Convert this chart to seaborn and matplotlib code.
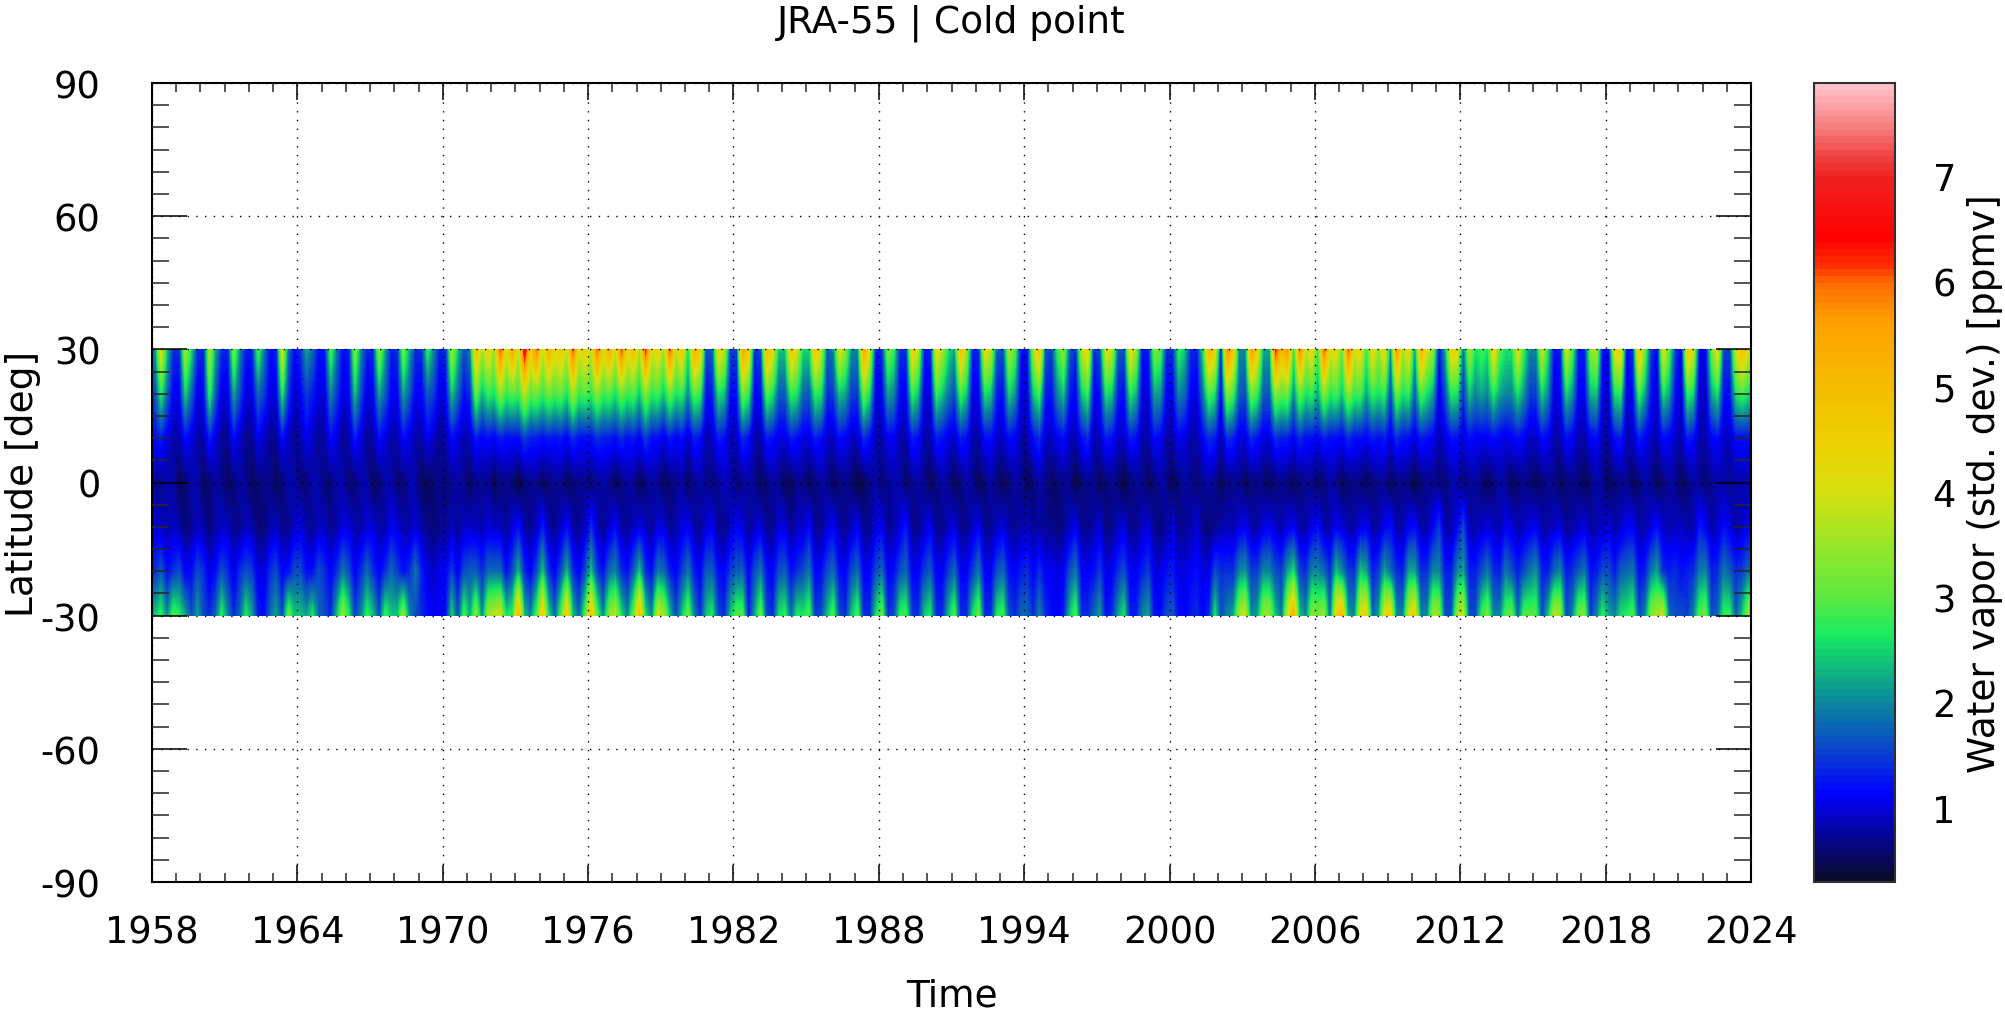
import numpy as np
import seaborn as sns
import matplotlib.pyplot as plt
from matplotlib.colors import LinearSegmentedColormap

# water vapour std. dev. in 0.1 ppmv, four samples per year, 1958-2023
lat_p30 = [
    20,43,24,14, 14,37,26,14, 14,37,22,14, 13,34,20,13, 13,30,19,12, 13,42,19,12,
    14,22,18,12, 13,30,19,12, 13,34,20,13, 14,35,22,13, 14,33,22,14, 14,28,20,13,
    14,37,24,16, 20,50,36,45, 35,63,40,55, 38,70,45,60, 38,53,42,48, 38,63,40,46,
    38,62,42,54, 38,63,42,50, 36,65,40,45, 35,63,38,48, 25,54,46,16, 17,45,38,15,
    15,56,46,14, 16,52,42,24, 24,48,40,25, 25,49,38,17, 20,42,34,20, 20,56,40,13,
    14,33,28,14, 14,46,38,13, 13,44,36,26, 22,50,36,13, 14,43,38,17, 16,37,30,12,
    12,36,50,17, 15,28,35,17, 14,38,45,14, 16,42,38,17, 16,45,35,12, 13,33,30,14,
    14,28,24,14, 13,26,52,44, 13,60,48,20, 20,58,44,22, 22,65,50,58, 27,60,38,44,
    28,63,40,44, 30,63,40,45, 28,45,34,45, 20,60,36,45, 21,54,40,35, 12,22,45,43,
    18,37,26,29, 26,46,30,26, 26,43,28,20, 20,40,26,12, 13,40,30,13, 13,34,37,12,
    12,42,45,11, 15,50,32,15, 11,43,30,15, 11,48,40,11, 11,32,44,15, 15,40,50,40,
]
lat_p20 = [
    16,27,18,11, 11,25,18,10, 11,28,17,10, 10,22,16,10, 10,18,15,10, 10,27,15,9,
    11,15,13,10, 10,20,15,10, 11,24,16,10, 11,22,17,11, 11,22,17,11, 11,17,15,10,
    11,24,18,12, 14,32,23,28, 26,34,28,30, 28,38,30,32, 28,32,29,31, 26,36,28,30,
    27,34,28,30, 26,32,28,30, 24,34,27,29, 24,32,26,28, 20,30,28,12, 13,26,24,12,
    12,32,28,11, 12,30,26,17, 17,28,26,18, 17,28,26,14, 15,24,22,15, 15,32,26,10,
    11,22,20,11, 11,28,24,10, 10,28,24,19, 16,29,24,10, 11,26,24,13, 12,25,21,10,
    10,24,29,13, 12,20,24,13, 11,24,28,11, 12,26,24,13, 12,27,23,10, 10,22,21,11,
    11,20,18,11, 10,19,30,26, 11,34,29,17, 16,32,28,17, 17,34,30,32, 20,32,26,28,
    22,34,27,29, 24,34,28,29, 22,28,26,28, 16,32,26,28, 17,30,26,22, 10,16,27,26,
    14,24,20,22, 20,27,22,20, 20,26,21,15, 15,25,20,10, 11,25,21,11, 11,23,24,10,
    10,26,27,9, 12,29,22,12, 9,26,22,12, 9,28,25,9, 9,22,26,12, 12,26,29,26,
]
lat_p10 = [
    12,13,10,8, 8,12,10,8, 8,13,10,7, 7,12,9,7, 7,11,9,7, 7,12,9,7,
    8,11,9,7, 8,12,10,7, 8,13,10,7, 8,12,10,8, 8,12,10,8, 8,11,9,7,
    8,12,10,8, 9,13,11,12, 11,13,12,12, 12,15,13,13, 12,13,12,13, 11,14,12,12,
    12,14,13,13, 12,14,12,13, 11,15,12,12, 10,13,11,12, 9,13,12,8, 9,13,12,8,
    9,14,12,8, 8,13,12,10, 10,13,12,10, 10,13,12,9, 9,12,11,9, 9,14,12,8,
    8,11,11,8, 8,13,12,8, 8,13,12,10, 9,13,12,8, 8,12,12,9, 9,12,11,8,
    8,12,14,9, 9,11,12,9, 8,12,14,8, 9,13,12,9, 9,13,12,8, 8,12,11,8,
    8,11,10,8, 8,11,14,13, 8,14,13,10, 10,14,12,10, 10,14,13,13, 11,14,12,12,
    11,13,12,12, 11,14,12,12, 11,13,12,13, 10,14,12,12, 10,13,12,11, 8,10,12,12,
    10,12,11,11, 11,12,11,10, 11,12,11,9, 9,12,11,8, 8,12,11,8, 8,11,12,8,
    8,12,13,8, 9,13,11,9, 8,12,11,9, 8,13,12,8, 8,11,12,9, 9,12,12,12,
]
lat_eq = [
    7,7,8,8, 5,6,8,8, 5,6,8,7, 5,6,8,7, 5,6,7,7, 5,6,8,8,
    6,6,8,8, 6,6,8,8, 6,6,8,8, 5,6,8,8, 6,6,8,8, 5,5,6,7,
    6,7,8,7, 5,7,7,7, 5,6,7,6, 4,6,7,7, 5,6,7,7, 5,6,7,7,
    6,7,8,7, 5,6,8,7, 5,6,8,7, 5,6,7,8, 5,7,8,7, 6,7,9,8,
    6,7,8,7, 5,6,8,7, 5,5,7,7, 5,6,8,7, 5,6,7,6, 4,5,7,8,
    6,7,8,8, 5,7,8,7, 5,6,8,7, 5,6,8,7, 5,6,8,6, 5,6,8,7,
    5,6,8,7, 5,6,7,7, 4,6,7,7, 5,6,7,6, 4,6,7,7, 5,6,8,7,
    5,6,8,7, 6,7,8,7, 5,6,7,7, 5,6,7,6, 5,6,7,6, 5,6,7,7,
    5,6,8,7, 5,6,7,6, 5,6,7,7, 5,6,7,6, 4,6,7,7, 6,6,8,8,
    6,7,8,6, 5,6,8,7, 5,6,7,6, 5,6,7,7, 5,6,7,6, 5,6,8,7,
    5,6,7,7, 5,6,8,7, 5,6,8,7, 5,6,8,7, 6,7,8,8, 7,8,8,8,
]
lat_m10 = [
    10,9,8,9, 8,6,7,9, 8,6,8,9, 9,7,7,9, 8,6,6,8, 9,7,7,9,
    10,8,7,9, 9,7,8,10, 10,8,8,10, 10,8,8,11, 10,8,8,10, 8,7,6,7,
    7,9,7,9, 9,9,8,10, 9,9,7,10, 12,8,7,9, 13,8,7,9, 12,8,7,9,
    14,9,7,9, 12,8,7,9, 10,9,7,10, 10,7,8,10, 11,8,7,10, 11,7,7,9,
    11,10,7,9, 10,7,7,10, 10,7,9,9, 12,7,7,10, 11,8,7,9, 11,7,7,10,
    11,7,8,10, 13,7,7,9, 11,7,7,9, 10,7,7,9, 11,7,7,9, 10,8,7,8,
    9,7,8,7, 7,6,7,9, 11,7,7,8, 10,6,7,9, 10,7,7,9, 10,7,6,8,
    10,7,7,8, 10,7,6,7, 8,9,8,10, 11,8,8,10, 11,9,8,10, 11,8,8,10,
    12,8,8,11, 10,8,8,10, 11,8,8,11, 12,8,8,11, 12,8,8,11, 15,8,8,11,
    16,8,8,9, 10,9,8,11, 10,8,9,10, 11,8,8,9, 10,7,8,9, 10,8,8,9,
    10,8,9,11, 11,8,8,10, 12,9,8,9, 9,8,8,13, 11,8,9,12, 10,8,9,11,
]
lat_m20 = [
    14,17,12,14, 16,11,12,16, 14,10,12,16, 14,10,14,16, 15,10,10,14, 16,11,12,16,
    16,12,12,16, 14,11,14,19, 16,11,14,18, 14,11,14,18, 15,12,14,19, 13,10,9,11,
    11,15,11,16, 17,17,14,18, 18,18,12,16, 23,14,11,16, 24,14,11,16, 23,14,11,16,
    24,15,12,18, 20,14,12,17, 24,14,12,19, 18,13,11,15, 19,13,11,17, 17,12,11,15,
    17,17,11,16, 19,12,11,16, 17,12,14,16, 19,11,12,16, 18,12,11,16, 18,11,11,16,
    18,11,12,16, 18,11,11,15, 17,11,11,15, 18,11,11,15, 19,11,11,16, 18,12,11,13,
    14,11,14,11, 11,10,11,16, 19,11,11,12, 15,10,11,14, 16,11,11,13, 15,10,10,12,
    13,10,10,11, 12,10,10,16, 14,14,14,20, 21,15,15,20, 20,16,15,22, 26,15,14,20,
    20,18,14,24, 20,15,14,24, 22,13,15,22, 18,14,13,22, 22,14,14,20, 20,13,13,20,
    22,13,13,16, 19,14,13,19, 16,13,16,19, 21,13,13,18, 20,13,14,17, 19,12,13,16,
    16,13,17,18, 19,12,13,19, 22,14,13,14, 12,13,14,19, 20,13,14,19, 17,14,15,18,
]
lat_m30 = [
    24,28,20,30, 27,22,16,22, 16,14,18,28, 20,14,18,27, 22,13,12,18, 22,16,32,24,
    24,22,27,18, 16,14,24,35, 27,15,20,28, 24,16,29,24, 24,35,20,16, 14,12,11,11,
    12,26,16,30, 22,35,20,36, 38,40,26,28, 53,24,20,30, 48,26,18,30, 48,24,18,30,
    50,30,20,34, 38,26,20,32, 52,26,20,40, 36,24,16,24, 32,20,14,24, 27,16,14,24,
    30,30,13,22, 32,16,14,26, 28,18,27,26, 30,15,16,24, 30,16,14,24, 30,14,14,26,
    32,14,16,28, 29,15,14,24, 27,14,14,24, 30,14,14,26, 32,14,14,27, 29,16,14,18,
    18,14,20,14, 12,11,13,24, 30,14,14,18, 22,12,14,22, 27,13,13,20, 22,12,12,16,
    17,12,11,13, 14,11,14,27, 16,20,22,36, 40,20,22,35, 35,24,19,40, 54,24,20,34,
    32,36,18,46, 50,22,20,42, 45,18,22,42, 45,20,20,40, 46,20,20,36, 35,16,16,36,
    40,16,16,28, 33,20,20,30, 32,18,30,30, 30,16,24,38, 36,16,20,32, 33,15,20,28,
    22,20,26,27, 30,16,20,34, 36,40,18,16, 16,15,20,30, 32,16,18,28, 28,17,24,35,
]

year_ticks = list(range(1958, 2025, 6))
lat_ticks = [-90, -60, -30, 0, 30, 60, 90]
cbar_ticks = [1, 2, 3, 4, 5, 6, 7]
vmin, vmax = 0.29, 7.88

# colour stops
cmap_vals = [0.29, 1.1, 1.5, 2.0, 2.63, 3.0, 3.3, 4.0, 4.5, 5.09, 5.63, 6.0, 6.15, 6.42, 7.0, 7.2, 7.5, 7.88]
cmap_cols = ["#0a0a2a", "#0000ff", "#0a40d0", "#0a8a9a", "#18ec60", "#60e840", "#80e830", "#d8e010",
             "#eecf00", "#f5b800", "#ffa000", "#ff6a00", "#ff3000", "#ff0000", "#f02020", "#f04040",
             "#f88080", "#ffc0c8"]
cmap = LinearSegmentedColormap.from_list(
    "wv", [((v - vmin) / (vmax - vmin), c) for v, c in zip(cmap_vals, cmap_cols)], N=120)

sns.set_theme(style="ticks")
plt.rcParams["font.family"] = "DejaVu Sans"
plt.rcParams["axes.unicode_minus"] = False

W, H = 2005, 1012
L, R, T, B = 152, 1751, 84, 883
fig = plt.figure(figsize=(W / 100, H / 100), dpi=100)

ax = fig.add_axes([L / W, 1 - B / H, (R - L) / W, (B - T) / H])
band_top = T + (B - T) * 60 / 180
band_bot = T + (B - T) * 120 / 180
ax_map = fig.add_axes([L / W, 1 - band_bot / H, (R - L) / W, (band_bot - band_top) / H])
cax = fig.add_axes([1814 / W, 1 - B / H, 81 / W, (B - T) / H])

wv = np.array([lat_p30, lat_p20, lat_p10, lat_eq, lat_m10, lat_m20, lat_m30]) / 10.0

sns.heatmap(wv, ax=ax_map, cbar_ax=cax, cmap=cmap, vmin=vmin, vmax=vmax,
            xticklabels=False, yticklabels=False, cbar_kws={"ticks": cbar_ticks})
# heatmap cells are flat, smooth them the way the original contour map is
ax_map.imshow(wv, cmap=cmap, vmin=vmin, vmax=vmax, aspect="auto", interpolation="bilinear",
              interpolation_stage="data", extent=(0, wv.shape[1], wv.shape[0], 0), zorder=2)
ax_map.set_xlim(0, wv.shape[1])
ax_map.set_ylim(wv.shape[0] - 0.5, 0.5)
ax_map.axis("off")

ax.set_zorder(3)
ax.patch.set_visible(False)
ax.set_xlim(1958, 2024)
ax.set_ylim(-90, 90)
ax.set_xticks(year_ticks)
ax.set_xticks(range(1958, 2025), minor=True)
ax.set_yticks(lat_ticks)
ax.set_yticks(range(-90, 91, 5), minor=True)
ax.tick_params(axis="x", which="major", direction="in", top=True, length=12.2, width=1.1, pad=23, labelsize=26.5, color="black", labelcolor="black")
ax.tick_params(axis="x", which="minor", direction="in", top=True, length=6.5, width=1.1)
ax.tick_params(axis="y", which="major", direction="in", right=True, length=25, width=1.1, pad=37, labelsize=26.5, color="black", labelcolor="black")
ax.tick_params(axis="y", which="minor", direction="in", right=True, length=12.2, width=1.1)
ax.grid(True, which="major", color="black", linewidth=1.0, linestyle=(0, (1, 5.3)))
ax.set_axisbelow(False)
for s in ax.spines.values():
    s.set_visible(True)
    s.set_linewidth(1.5)
    s.set_color("black")

ax.set_title("JRA-55 | Cold point", fontsize=27, pad=37, color="black")
ax.set_xlabel("Time", fontsize=27, labelpad=19, color="black")
ax.set_ylabel("Latitude [deg]", fontsize=27, color="black", va="center")
ax.yaxis.set_label_coords((23 - L) / (R - L), 0.5)

cax.tick_params(which="major", direction="in", left=True, right=True, length=12.2, width=1.1, pad=27, labelsize=26.5, color="black", labelcolor="black")
cax.set_ylabel("Water vapor (std. dev.) [ppmv]", fontsize=27, labelpad=8, color="black")
cbar = ax_map.collections[0].colorbar
cbar.outline.set_visible(True)
cbar.outline.set_linewidth(1.5)
cbar.outline.set_edgecolor("#303030")

fig.savefig("out.png", dpi=100)
